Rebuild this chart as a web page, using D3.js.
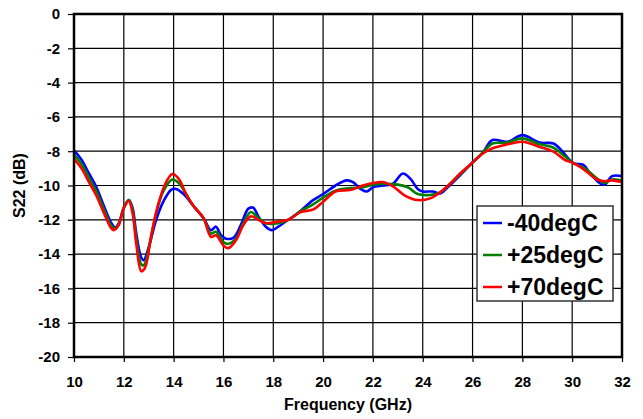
<!DOCTYPE html>
<html>
<head>
<meta charset="utf-8">
<script src="https://cdn.jsdelivr.net/npm/d3@7"></script>
<style>
    body { margin: 0; background: #fff; }
    text { font-family: "Liberation Sans", Arial, sans-serif; font-weight: bold; fill: #000; }
</style>
</head>
<body>
<svg id="chart" width="643" height="419"></svg>
<script>
// Data (S22 in dB vs frequency in GHz)
const seriesNames = ['-40degC', '+25degC', '+70degC'];
const seriesColors = ['#0000ff', '#008000', '#ff0000'];

const freqM40 = [10.0, 10.3, 10.6, 10.9, 11.2, 11.5, 11.65, 11.8, 12.0, 12.2, 12.35, 12.5, 12.7, 12.8, 13.0, 13.3, 13.6, 13.9, 14.1, 14.4, 14.8, 15.2, 15.5, 15.7, 15.9, 16.1, 16.4, 16.7, 17.0, 17.2, 17.4, 17.7, 17.95, 18.2, 18.5, 19.0, 19.6, 20.0, 20.5, 20.95, 21.2, 21.5, 21.75, 22.0, 22.4, 22.8, 23.2, 23.5, 23.8, 24.0, 24.4, 24.7, 25.0, 25.5, 25.9, 26.4, 26.8, 27.4, 28.0, 28.7, 29.25, 29.6, 30.05, 30.45, 30.7, 31.1, 31.3, 31.6, 32.0];
const s22M40 = [-7.95, -8.5, -9.3, -10.1, -11.2, -12.2, -12.45, -12.2, -11.3, -10.85, -11.3, -12.8, -14.2, -14.35, -13.6, -12.0, -10.9, -10.25, -10.2, -10.5, -11.2, -11.9, -12.6, -12.4, -12.9, -13.1, -13.05, -12.3, -11.35, -11.3, -11.8, -12.4, -12.6, -12.4, -12.1, -11.6, -10.85, -10.5, -10.0, -9.7, -9.8, -10.2, -10.35, -10.1, -10.0, -9.9, -9.3, -9.6, -10.2, -10.35, -10.35, -10.46, -10.1, -9.4, -8.8, -8.1, -7.35, -7.45, -7.06, -7.5, -7.55, -8.0, -8.7, -8.8, -9.25, -9.85, -9.95, -9.45, -9.45];

const freqP25 = [10.0, 10.3, 10.6, 10.9, 11.2, 11.5, 11.65, 11.8, 12.0, 12.2, 12.35, 12.5, 12.7, 12.8, 13.0, 13.3, 13.6, 13.95, 14.2, 14.5, 14.8, 15.2, 15.5, 15.7, 16.0, 16.2, 16.5, 16.8, 17.1, 17.4, 17.7, 18.2, 18.6, 19.1, 19.6, 20.0, 20.5, 21.1, 21.6, 22.0, 22.5, 23.0, 23.4, 23.8, 24.3, 24.7, 25.1, 25.5, 25.9, 26.4, 26.8, 27.4, 28.0, 28.7, 29.25, 29.7, 30.05, 30.5, 31.0, 31.3, 31.6, 32.0];
const s22P25 = [-8.2, -8.75, -9.55, -10.35, -11.4, -12.35, -12.5, -12.25, -11.3, -10.85, -11.45, -13.1, -14.6, -14.65, -13.7, -11.6, -10.3, -9.65, -9.85, -10.5, -11.2, -11.9, -12.8, -12.7, -13.3, -13.4, -13.1, -12.2, -11.55, -11.9, -12.2, -12.2, -12.0, -11.5, -11.1, -10.7, -10.3, -10.15, -10.1, -9.95, -9.9, -9.95, -10.1, -10.5, -10.55, -10.4, -9.9, -9.35, -8.8, -8.1, -7.55, -7.5, -7.25, -7.6, -7.8, -8.3, -8.7, -9.0, -9.6, -9.85, -9.65, -9.7];

const freqP70 = [10.0, 10.3, 10.6, 10.9, 11.2, 11.5, 11.6, 11.8, 12.0, 12.2, 12.35, 12.5, 12.7, 12.85, 13.1, 13.4, 13.7, 13.95, 14.2, 14.5, 14.8, 15.2, 15.5, 15.7, 16.0, 16.2, 16.5, 16.8, 17.1, 17.4, 17.7, 18.2, 18.6, 19.1, 19.6, 20.0, 20.5, 21.1, 21.6, 22.0, 22.4, 22.8, 23.3, 23.8, 24.3, 24.7, 25.1, 25.5, 25.9, 26.4, 26.8, 27.4, 28.0, 28.7, 29.25, 29.7, 30.05, 30.5, 31.0, 31.3, 31.6, 32.0];
const s22P70 = [-8.45, -9.0, -9.8, -10.6, -11.6, -12.5, -12.6, -12.3, -11.3, -10.9, -11.6, -13.4, -15.0, -14.8, -12.9, -11.0, -9.8, -9.33, -9.6, -10.5, -11.2, -11.9, -13.0, -12.9, -13.5, -13.65, -13.2, -12.3, -11.8, -12.0, -12.2, -12.1, -12.0, -11.55, -11.4, -10.95, -10.35, -10.26, -10.0, -9.85, -9.8, -10.05, -10.6, -10.85, -10.75, -10.4, -9.9, -9.3, -8.8, -8.15, -7.83, -7.6, -7.45, -7.75, -8.03, -8.5, -8.7, -9.1, -9.65, -9.75, -9.7, -9.8];

const xTicks = [10, 12, 14, 16, 18, 20, 22, 24, 26, 28, 30, 32];
const yTicks = [0, -2, -4, -6, -8, -10, -12, -14, -16, -18, -20];

const Chart = (() => {
    const width = 643;
    const height = 419;
    const margin = { top: 14, right: 21, bottom: 62, left: 74 };

    const draw = () => {
        const svg = d3.select('#chart');
        const innerW = width - margin.left - margin.right;
        const innerH = height - margin.top - margin.bottom;

        const x = d3.scaleLinear().domain([10, 32]).range([0, innerW]);
        const y = d3.scaleLinear().domain([-20, 0]).range([innerH, 0]);

        const g = svg.append('g')
            .attr('transform', `translate(${margin.left},${margin.top})`);

        // Grid lines
        g.append('g')
            .selectAll('line')
            .data(xTicks)
            .enter()
            .append('line')
            .attr('x1', d => x(d)).attr('x2', d => x(d))
            .attr('y1', 0).attr('y2', innerH)
            .attr('stroke', '#000').attr('stroke-width', 1.2);

        g.append('g')
            .selectAll('line')
            .data(yTicks)
            .enter()
            .append('line')
            .attr('x1', 0).attr('x2', innerW)
            .attr('y1', d => y(d)).attr('y2', d => y(d))
            .attr('stroke', '#000').attr('stroke-width', 1.2);

        // Axes (plain hyphen for negatives, like the original)
        const plain = d => String(d);
        const xAxis = g.append('g')
            .attr('transform', `translate(0,${innerH})`)
            .call(d3.axisBottom(x).tickValues(xTicks).tickFormat(plain).tickSize(5).tickPadding(14));
        const yAxis = g.append('g')
            .call(d3.axisLeft(y).tickValues(yTicks).tickFormat(plain).tickSize(6).tickPadding(8));

        [xAxis, yAxis].forEach(ax => {
            ax.select('.domain').remove();
            ax.selectAll('line').attr('stroke', '#000').attr('stroke-width', 1.2);
            ax.selectAll('text')
                .attr('fill', '#000')
                .style('font-size', '15px')
                .style('font-family', '"Liberation Sans", Arial, sans-serif')
                .style('font-weight', 'bold');
        });

        // Series
        const series = [
            { freq: freqM40, vals: s22M40 },
            { freq: freqP25, vals: s22P25 },
            { freq: freqP70, vals: s22P70 }
        ];

        const line = d3.line()
            .x(d => x(d[0]))
            .y(d => y(d[1]))
            .curve(d3.curveCatmullRom.alpha(0.5));

        series.forEach((s, i) => {
            g.append('path')
                .datum(s.freq.map((f, k) => [f, s.vals[k]]))
                .attr('fill', 'none')
                .attr('stroke', seriesColors[i])
                .attr('stroke-width', 2.6)
                .attr('stroke-linejoin', 'round')
                .attr('d', line);
        });

        // Frame
        g.append('rect')
            .attr('x', 0).attr('y', 0)
            .attr('width', innerW).attr('height', innerH)
            .attr('fill', 'none')
            .attr('stroke', '#000')
            .attr('stroke-width', 2.5);

        // Legend
        const legend = svg.append('g').attr('transform', 'translate(477,206)');
        legend.append('rect')
            .attr('width', 136).attr('height', 95)
            .attr('fill', '#fff')
            .attr('stroke', '#333')
            .attr('stroke-width', 1.5);

        seriesNames.forEach((name, i) => {
            const cy = 17 + i * 32;
            legend.append('line')
                .attr('x1', 6).attr('x2', 25)
                .attr('y1', cy).attr('y2', cy)
                .attr('stroke', seriesColors[i])
                .attr('stroke-width', 2.5);
            legend.append('text')
                .attr('x', 30).attr('y', cy + 8)
                .style('font-size', '23px')
                .text(name);
        });

        // Axis titles
        svg.append('text')
            .attr('x', margin.left + innerW / 2)
            .attr('y', 410)
            .attr('text-anchor', 'middle')
            .style('font-size', '16px')
            .text('Frequency (GHz)');

        svg.append('text')
            .attr('transform', `translate(25,${margin.top + innerH / 2}) rotate(-90)`)
            .attr('text-anchor', 'middle')
            .style('font-size', '16px')
            .text('S22 (dB)');
    };

    return { draw };
})();

Chart.draw();
</script>
</body>
</html>
